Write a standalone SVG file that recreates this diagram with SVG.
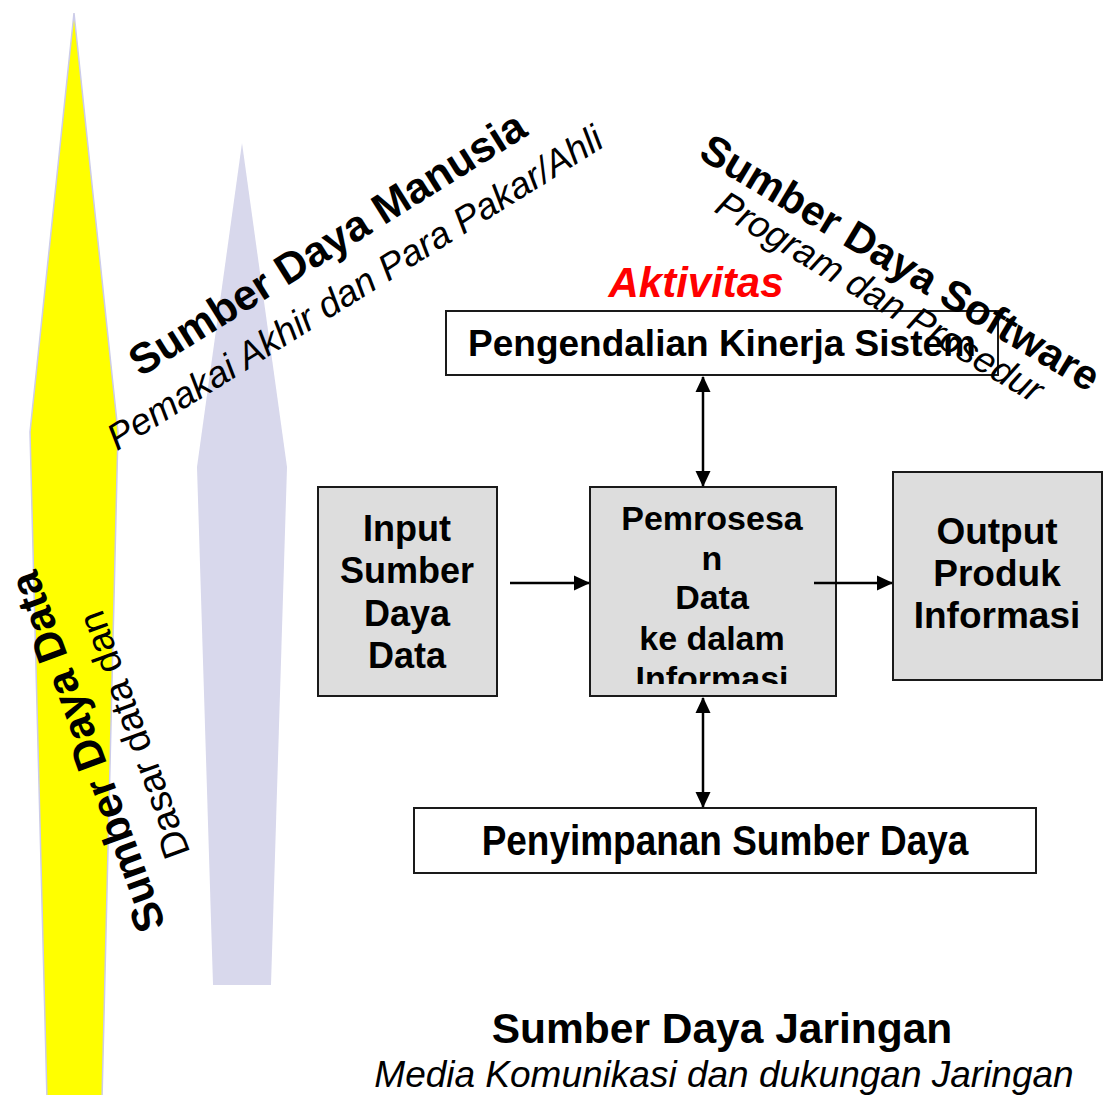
<svg xmlns="http://www.w3.org/2000/svg" width="1116" height="1095" viewBox="0 0 1116 1095">
<style>
.b{font-family:"Liberation Sans",Arial,sans-serif;font-weight:bold;fill:#000}
.i{font-family:"Liberation Sans",Arial,sans-serif;font-style:italic;fill:#000}
.r{font-family:"Liberation Sans",Arial,sans-serif;fill:#000}
.box{stroke:#1a1a1a;stroke-width:2}
.gray{fill:#dddddd}
.white{fill:#ffffff}
.con{stroke:#000;stroke-width:2.5;fill:none}
</style>
<defs>
<marker id="ah" viewBox="0 0 16 16" refX="15" refY="8" markerWidth="16" markerHeight="16" markerUnits="userSpaceOnUse" orient="auto-start-reverse">
<path d="M0,0.5 L16,8 L0,15.5 z" fill="#000"/>
</marker>
<clipPath id="clipProc"><rect x="590" y="488" width="246" height="196"/></clipPath>
</defs>
<rect width="1116" height="1095" fill="#ffffff"/>
<g id="shape-yellow">
<polygon points="74,13 118,432 102,1100 47,1100 30,432" fill="#ffff00" stroke="#ccccea" stroke-width="1.5"/>
</g>
<g id="shape-lavender">
<polygon points="242,143 287,467 271,985 213,985 197,467" fill="#d8d8ec"/>
</g>
<g id="node-pengendalian">
<rect class="box white" x="446" y="311" width="552" height="64"/>
<text class="b" x="722" y="356" font-size="37" text-anchor="middle">Pengendalian Kinerja Sistem</text>
</g>
<g id="node-input">
<rect class="box gray" x="318" y="487" width="179" height="209"/>
<text class="b" font-size="36" text-anchor="middle"><tspan x="407" y="541">Input</tspan><tspan x="407" y="583">Sumber</tspan><tspan x="407" y="626">Daya</tspan><tspan x="407" y="668">Data</tspan></text>
</g>
<g id="node-pemrosesan">
<rect class="box gray" x="590" y="487" width="246" height="209"/>
<text class="b" font-size="34" text-anchor="middle" clip-path="url(#clipProc)"><tspan x="712" y="530">Pemrosesa</tspan><tspan x="712" y="570">n</tspan><tspan x="712" y="609">Data</tspan><tspan x="712" y="650">ke dalam</tspan><tspan x="712" y="690">Informasi</tspan></text>
</g>
<g id="node-output">
<rect class="box gray" x="893" y="472" width="209" height="208"/>
<text class="b" font-size="37" text-anchor="middle"><tspan x="997" y="544">Output</tspan><tspan x="997" y="586">Produk</tspan><tspan x="997" y="628">Informasi</tspan></text>
</g>
<g id="node-penyimpanan">
<rect class="box white" x="414" y="808" width="622" height="65"/>
<text class="b" font-size="42" text-anchor="middle" transform="translate(725,855) scale(0.88,1)" x="0" y="0">Penyimpanan Sumber Daya</text>
</g>
<g id="connectors">
<line class="con" x1="510" y1="583" x2="589" y2="583" marker-end="url(#ah)"/>
<line class="con" x1="814" y1="583" x2="892" y2="583" marker-end="url(#ah)"/>
<line class="con" x1="703" y1="377" x2="703" y2="486" marker-start="url(#ah)" marker-end="url(#ah)"/>
<line class="con" x1="703" y1="698" x2="703" y2="807" marker-start="url(#ah)" marker-end="url(#ah)"/>
</g>
<g id="label-aktivitas">
<text x="696" y="297" font-size="42" text-anchor="middle" style="font-family:'Liberation Sans',Arial,sans-serif;font-weight:bold;font-style:italic" fill="#ff0000">Aktivitas</text>
</g>
<g id="label-manusia" transform="translate(335,256) rotate(-32)">
<text class="b" x="0" y="0" font-size="43" text-anchor="middle">Sumber Daya Manusia</text>
<text class="i" x="0" y="50" font-size="37" text-anchor="middle">Pemakai Akhir dan Para Pakar/Ahli</text>
</g>
<g id="label-software" transform="translate(893,275) rotate(31)">
<text class="b" x="0" y="0" font-size="42" text-anchor="middle">Sumber Daya Software</text>
<text class="i" x="0" y="38" font-size="37" text-anchor="middle">Program dan Prosedur</text>
</g>
<g id="label-data" transform="translate(101,747) rotate(-110)">
<text class="b" x="0" y="0" font-size="43" text-anchor="middle">Sumber Daya Data</text>
<text class="r" x="0" y="48" font-size="38" text-anchor="middle">Dasar data dan</text>
</g>
<g id="label-jaringan">
<text class="b" x="722" y="1043" font-size="42.5" text-anchor="middle">Sumber Daya Jaringan</text>
<text class="i" x="724" y="1087" font-size="37" text-anchor="middle">Media Komunikasi dan dukungan Jaringan</text>
</g>
</svg>
